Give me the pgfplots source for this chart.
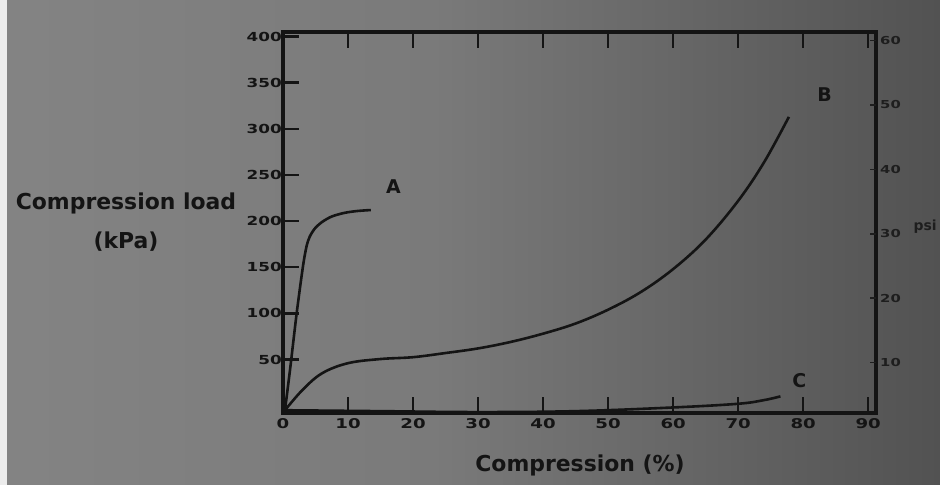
\documentclass[border=0pt]{standalone}
\usepackage{pgfplots}
\pgfplotsset{compat=1.18}
\usepackage{fontspec}
\setmainfont{DejaVu Sans}
\newfontfamily\tickfont[FakeStretch=1.35]{DejaVu Sans Bold}
\newfontfamily\labfont{DejaVu Sans Bold}

\definecolor{bgA}{HTML}{8E8E8E}
\definecolor{bgB}{HTML}{7A7A7A}
\definecolor{bgC}{HTML}{525252}
\definecolor{bgD}{HTML}{2E2E2E}
\definecolor{ink}{HTML}{141414}
\definecolor{dimink}{HTML}{1E1E1E}

\pgfdeclarehorizontalshading{scanbg}{100bp}{color(0bp)=(bgA); color(48bp)=(bgB); color(75bp)=(bgC); color(100bp)=(bgD)}

\begin{document}
\begin{tikzpicture}[x=1bp,y=1bp]
\useasboundingbox (0,0) rectangle (940,485);
\shade[shading=scanbg] (0,0) rectangle (940,485);
\fill[white!85!gray] (0,0) rectangle (7,485);

% main axis, kPa
\begin{axis}[
  at={(283bp,72bp)}, anchor=south west,
  scale only axis, width=593bp, height=381bp,
  xmin=0, xmax=91.2, ymin=-8, ymax=405,
  axis line style={line width=4bp, ink},
  xtick={0,10,...,90}, ytick={50,100,...,400},
  xtick pos=both, ytick pos=left,
  tick align=inside, major tick length=16bp,
  tick style={line width=2.5bp, ink},
  yticklabel style={font=\tickfont\fontsize{12.5}{12.5}\selectfont, text=ink, inner sep=1bp},
  xticklabel style={font=\tickfont\fontsize{13.5}{13.5}\selectfont, text=ink, inner sep=1bp, yshift=-4bp},
  /pgf/number format/assume math mode=true,
  clip=false,
]
% A
\addplot[ink, line width=2.6bp, smooth, tension=0.5] coordinates {
(0.3,-5) (1.1,40) (2.1,100) (3.05,150) (3.6,172) (4.1,183) (4.9,192)
(6,199) (7.5,205) (9.5,209) (11.5,211) (13.5,212)
};
% B
\addplot[ink, line width=2.6bp, smooth, tension=0.6] coordinates {
(0.3,-5) (3,17) (6,35) (10,46) (15,50.5) (20,52.5) (25,57) (30,62)
(35,69) (40,78) (45,89) (50,104) (55,123) (60,148) (65,180) (70,222)
(74,264) (77.8,313)
};
% C
\addplot[ink, line width=2.6bp, smooth, tension=0.6] coordinates {
(0.3,-5) (15,-6) (30,-7) (45,-6) (60,-2) (70,2) (74,6) (76.5,10)
};
\node[font=\labfont\fontsize{19}{19}\selectfont, text=ink] at (axis cs:17,237) {A};
\node[font=\labfont\fontsize{19}{19}\selectfont, text=ink] at (axis cs:83.3,337) {B};
\node[font=\labfont\fontsize{19}{19}\selectfont, text=ink] at (axis cs:79.4,27) {C};
\end{axis}

% right axis, psi
\begin{axis}[
  at={(283bp,72bp)}, anchor=south west,
  scale only axis, width=593bp, height=381bp,
  xmin=0, xmax=91.2, ymin=2.2, ymax=61.3,
  hide x axis, axis y line*=right,
  y axis line style={draw=none},
  ytick={10,20,...,60},
  tick align=inside, major tick length=6bp,
  tick style={line width=1.5bp, dimink},
  yticklabel style={font=\tickfont\fontsize{11}{11}\selectfont, text=dimink, inner sep=1bp, xshift=3bp},
  /pgf/number format/assume math mode=true,
  clip=false,
]
\node[anchor=west, font=\labfont\fontsize{14}{14}\selectfont, text=dimink] at (rel axis cs:1,0.49) [xshift=34bp] {psi};
\end{axis}

\node[align=center, font=\labfont\fontsize{22}{39}\selectfont, text=ink] at (126,263) {Compression load\\(kPa)};
\node[font=\labfont\fontsize{22}{22}\selectfont, text=ink] at (580,20) {Compression (\%)};
\end{tikzpicture}
\end{document}
